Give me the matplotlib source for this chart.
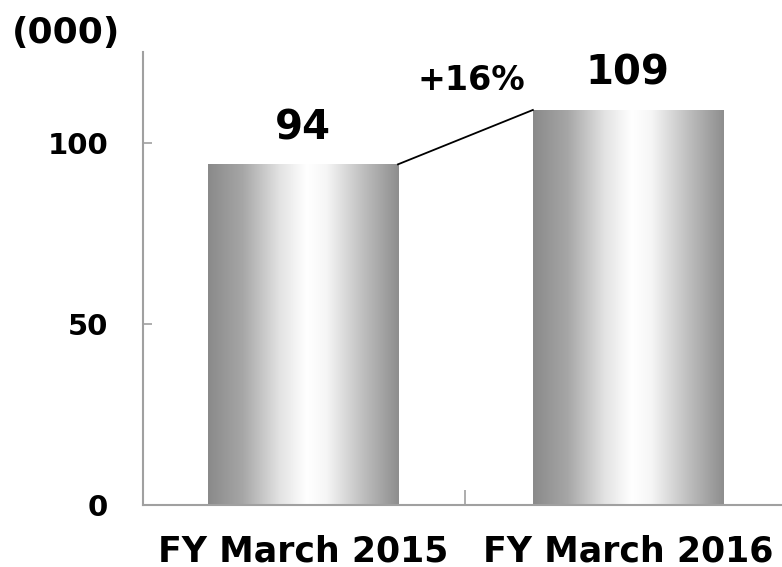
import numpy as np
import matplotlib
matplotlib.use("Agg")
import matplotlib.pyplot as plt
from matplotlib.colors import LinearSegmentedColormap

# Datos
categorias = ["FY March 2015", "FY March 2016"]
valores = [94, 109]
etiqueta_crecimiento = "+16%"
unidad = "(000)"
yticks = [0, 50, 100]

plt.rcParams["font.family"] = "DejaVu Sans"
plt.rcParams["font.weight"] = "bold"

fig = plt.figure(figsize=(7.82, 5.67), dpi=100)
ax = fig.add_axes([143 / 782, 62 / 567, 650 / 782, 453 / 567])

gris = "#a0a0a0"

# degradado horizontal gris-blanco-gris para las barras
degradado = LinearSegmentedColormap.from_list(
    "cilindro",
    [(0.0, "#8a8a8a"), (0.18, "#a6a6a6"), (0.38, "#e4e4e4"),
     (0.52, "#ffffff"), (0.62, "#f6f6f6"), (0.82, "#bdbdbd"), (1.0, "#8e8e8e")])
franja = np.linspace(0, 1, 256).reshape(1, -1)

x = np.arange(len(categorias))
barras = ax.bar(x, valores, width=0.585, facecolor="none", edgecolor="none")
for b in barras:
    x0, y0 = b.get_x(), b.get_y()
    im = ax.imshow(franja, cmap=degradado, aspect="auto", interpolation="bilinear",
                   extent=[x0, x0 + b.get_width(), y0, y0 + b.get_height()], zorder=2)
    im.set_clip_path(b)

# etiquetas de valor
for xi, v in zip(x, valores):
    ax.annotate(str(v), (xi, v), xytext=(0, 18), textcoords="offset points",
                ha="center", va="baseline", fontsize=29, fontweight="bold")

# linea de crecimiento entre barras
w = barras[0].get_width()
ax.plot([x[0] + w / 2, x[1] - w / 2], [valores[0], valores[1]], color="black",
        lw=1.3, zorder=3)
ax.text(0.517, 114.6, etiqueta_crecimiento, ha="center", va="baseline",
        fontsize=24, fontweight="bold")

ax.set_xlim(-0.492, 1.508)
ax.set_ylim(0, 125)

for s in ["top", "right"]:
    ax.spines[s].set_visible(False)
for s in ["left", "bottom"]:
    ax.spines[s].set_color(gris)
    ax.spines[s].set_linewidth(1.5)

ax.set_yticks(yticks)
ax.set_yticklabels([str(t) for t in yticks], fontsize=21, fontweight="bold")
ax.tick_params(axis="y", direction="in", length=6.5, width=1.2, color=gris, pad=25)

ax.set_xticks(x)
ax.set_xticklabels(categorias, fontsize=25, fontweight="bold")
ax.set_xticks([0.5], minor=True)
ax.tick_params(axis="x", which="major", length=0, pad=21)
ax.tick_params(axis="x", which="minor", direction="in", length=11, width=1.2, color=gris)

fig.text(12 / 782, 1 - 43 / 567, unidad, ha="left", va="baseline",
         fontsize=26, fontweight="bold")

fig.savefig("out.png", dpi=100)
